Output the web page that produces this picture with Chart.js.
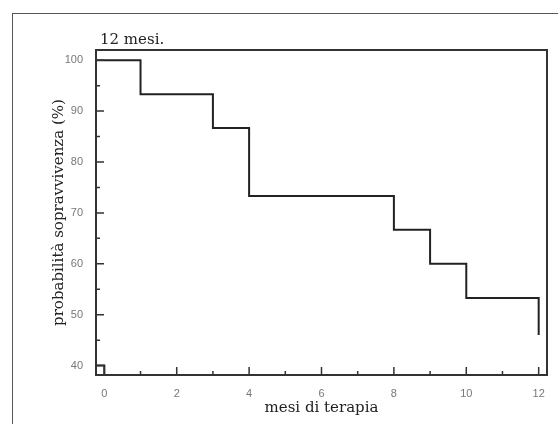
<!DOCTYPE html>
<html>
<head>
<meta charset="utf-8">
<script src="https://cdn.jsdelivr.net/npm/chart.js@4"></script>
<style>
  html, body { margin: 0; padding: 0; background: #fff; overflow: hidden; }
  #wrap { position: relative; width: 558px; height: 424px; }
  #frame { position: absolute; left: 12px; top: 13px; width: 600px; height: 500px; border: 1px solid #555; }
  #chart { position: absolute; left: 0; top: 0; }
</style>
</head>
<body>
<div id="wrap">
  <div id="frame"></div>
  <canvas id="chart" width="558" height="424"></canvas>
</div>
<script>
// Kaplan-Meier survival steps
const months = [0, 1, 3, 4, 8, 9, 10, 12, 12];
const survival = [100, 93.3, 86.7, 73.3, 66.7, 60, 53.3, 53.3, 46];

const xMin = -0.23, xMax = 12.23;
const yMin = 38.15, yMax = 102;

const xTicks = [0, 2, 4, 6, 8, 10, 12];
const xMinor = [1, 3, 5, 7, 9, 11];
const yTicks = [40, 50, 60, 70, 80, 90, 100];
const yMinor = [45, 55, 65, 75, 85, 95];

// little corner mark at the origin
const cornerX = [xMin, 0, 0];
const cornerY = [40, 40, yMin];

const lineColor = "#222";
const serif = "'DejaVu Serif', serif";
const tickFont = { family: "'Liberation Sans', Arial", size: 11 };

const frameAndTicks = {
    id: "frameAndTicks",
    afterDatasetsDraw(chart) {
        const { ctx, chartArea: a, scales: { x, y } } = chart;
        ctx.save();
        ctx.strokeStyle = "#333";
        ctx.lineWidth = 1.5;
        ctx.beginPath();
        xTicks.forEach(v => { const p = x.getPixelForValue(v); ctx.moveTo(p, a.bottom); ctx.lineTo(p, a.bottom - 8); });
        xMinor.forEach(v => { const p = x.getPixelForValue(v); ctx.moveTo(p, a.bottom); ctx.lineTo(p, a.bottom - 4); });
        yTicks.forEach(v => { const p = y.getPixelForValue(v); ctx.moveTo(a.left, p); ctx.lineTo(a.left + 8, p); });
        yMinor.forEach(v => { const p = y.getPixelForValue(v); ctx.moveTo(a.left, p); ctx.lineTo(a.left + 4, p); });
        ctx.stroke();

        ctx.lineWidth = 2;
        ctx.strokeRect(a.left, a.top, a.right - a.left, a.bottom - a.top);

        ctx.fillStyle = "#222";
        ctx.font = "15px " + serif;
        ctx.textBaseline = "alphabetic";
        ctx.fillText("12 mesi.", a.left + 4, a.top - 6);
        ctx.restore();
    }
};

// the curve starts at the left edge of the axis
const curve = [{ x: xMin, y: survival[0] }].concat(months.map((m, i) => ({ x: m, y: survival[i] })));

new Chart(document.getElementById("chart"), {
    type: "line",
    data: {
        datasets: [{
            data: curve,
            stepped: "before",
            borderColor: lineColor,
            borderWidth: 2,
            pointRadius: 0,
            fill: false
        }, {
            data: cornerX.map((m, i) => ({ x: m, y: cornerY[i] })),
            borderColor: lineColor,
            borderWidth: 2,
            pointRadius: 0,
            fill: false
        }]
    },
    options: {
        responsive: false,
        animation: false,
        layout: { padding: { top: 50, right: 11, left: 0, bottom: 0 } },
        plugins: {
            legend: { display: false },
            tooltip: { enabled: false }
        },
        scales: {
            x: {
                type: "linear",
                min: xMin,
                max: xMax,
                afterBuildTicks: s => { s.ticks = xTicks.map(v => ({ value: v })); },
                afterFit: s => { s.height = 49; },
                grid: { display: false },
                border: { display: false },
                ticks: { color: "#777", font: tickFont, padding: 4, maxRotation: 0 },
                title: { display: true, text: "mesi di terapia", color: "#222", font: { family: serif, size: 15 }, padding: { bottom: 7 } }
            },
            y: {
                min: yMin,
                max: yMax,
                afterBuildTicks: s => { s.ticks = yTicks.map(v => ({ value: v })); },
                afterFit: s => { s.width = 96; },
                grid: { display: false },
                border: { display: false },
                ticks: { color: "#777", font: tickFont, padding: 5 },
                title: { display: true, text: "probabilità sopravvivenza (%)", color: "#222", font: { family: serif, size: 15 }, padding: { top: 50 } }
            }
        }
    },
    plugins: [frameAndTicks]
});
</script>
</body>
</html>
